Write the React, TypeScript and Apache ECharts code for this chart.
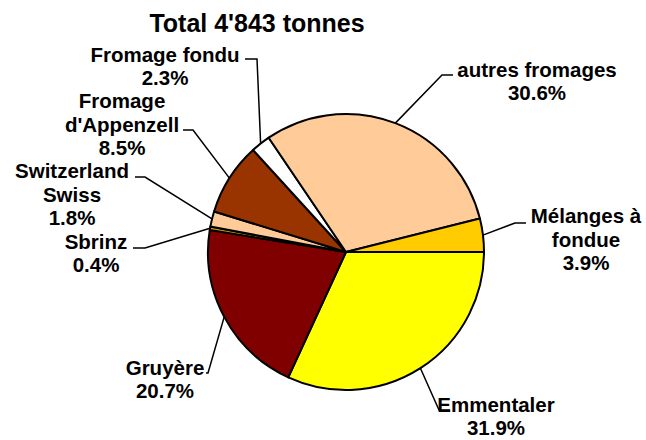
import React, { useEffect, useRef } from "react";
import * as echarts from "echarts";

const titleText = "Total 4'843 tonnes";
const categories = [
  "Emmentaler",
  "Gruyère",
  "Sbrinz",
  "Switzerland\nSwiss",
  "Fromage\nd'Appenzell",
  "Fromage fondu",
  "autres fromages",
  "Mélanges à\nfondue",
];
const shares = [31.9, 20.7, 0.4, 1.8, 8.5, 2.3, 30.6, 3.9];
const colors = ["#FFFF00", "#800000", "#CC9900", "#FFCC99", "#993300", "#FFFFFF", "#FFCC99", "#FFCC00"];

// label layout (position of each label block and its leader line bend)
const placement = [
  { x: 496, y: 416, elbow: [439, 410], end: [450, 410] },
  { x: 165, y: 379, elbow: [208, 373], end: [206, 373] },
  { x: 96, y: 253, elbow: [145, 248], end: [133, 248] },
  { x: 72, y: 194, elbow: [145, 177], end: [135, 177] },
  { x: 122, y: 124, elbow: [193, 130], end: [183, 130] },
  { x: 165, y: 66, elbow: [257, 59], end: [245, 59] },
  { x: 537, y: 81, elbow: [442, 75], end: [453, 75] },
  { x: 586, y: 239, elbow: [515, 223], end: [526, 223] },
];

const CX = 346;
const CY = 252;
const R = 138;
const FONT = "'Liberation Sans', Arial, Helvetica, sans-serif";

export default function App() {
  const ref = useRef<HTMLDivElement>(null);
  useEffect(() => {
    document.body.style.margin = "0";
    if (!ref.current) return;
    const chart = echarts.init(ref.current, null, { renderer: "svg" });
    const total = shares.reduce((a, b) => a + b, 0);
    const edgePoint = (i: number) => {
      let cum = 0;
      for (let k = 0; k < i; k++) cum += shares[k];
      const a = (2 * Math.PI * (cum + shares[i] / 2)) / total;
      return [CX + R * Math.cos(a), CY + R * Math.sin(a)];
    };
    chart.setOption({
      animation: false,
      backgroundColor: "#FFFFFF",
      title: {
        text: titleText,
        left: 252,
        textAlign: "center",
        top: 5,
        textStyle: { fontFamily: FONT, fontSize: 25, fontWeight: "bold", color: "#000" },
      },
      series: [
        {
          type: "pie",
          center: [CX, CY],
          radius: R,
          startAngle: 0,
          clockwise: true,
          avoidLabelOverlap: false,
          data: categories.map((name, i) => ({
            name,
            value: shares[i],
            itemStyle: { color: colors[i] },
          })),
          itemStyle: { borderColor: "#000", borderWidth: 2 },
          label: {
            show: true,
            position: "outside",
            formatter: (p: any) => `${p.name}\n${Number(p.value).toFixed(1)}%`,
            fontFamily: FONT,
            fontSize: 20.5,
            fontWeight: "bold",
            color: "#000",
            lineHeight: 23.5,
            align: "center",
          },
          labelLine: {
            show: true,
            length: 10,
            length2: 10,
            lineStyle: { color: "#000", width: 1.5 },
          },
          labelLayout: (params: any) => {
            const i = params.dataIndex;
            const p = placement[i];
            const start = edgePoint(i);
            return {
              x: p.x,
              y: p.y,
              align: "center",
              verticalAlign: "middle",
              labelLinePoints: [start, p.elbow, p.end],
            };
          },
          emphasis: { disabled: true },
        },
      ],
    });
    return () => chart.dispose();
  }, []);
  return <div ref={ref} style={{ width: 646, height: 440 }} />;
}
